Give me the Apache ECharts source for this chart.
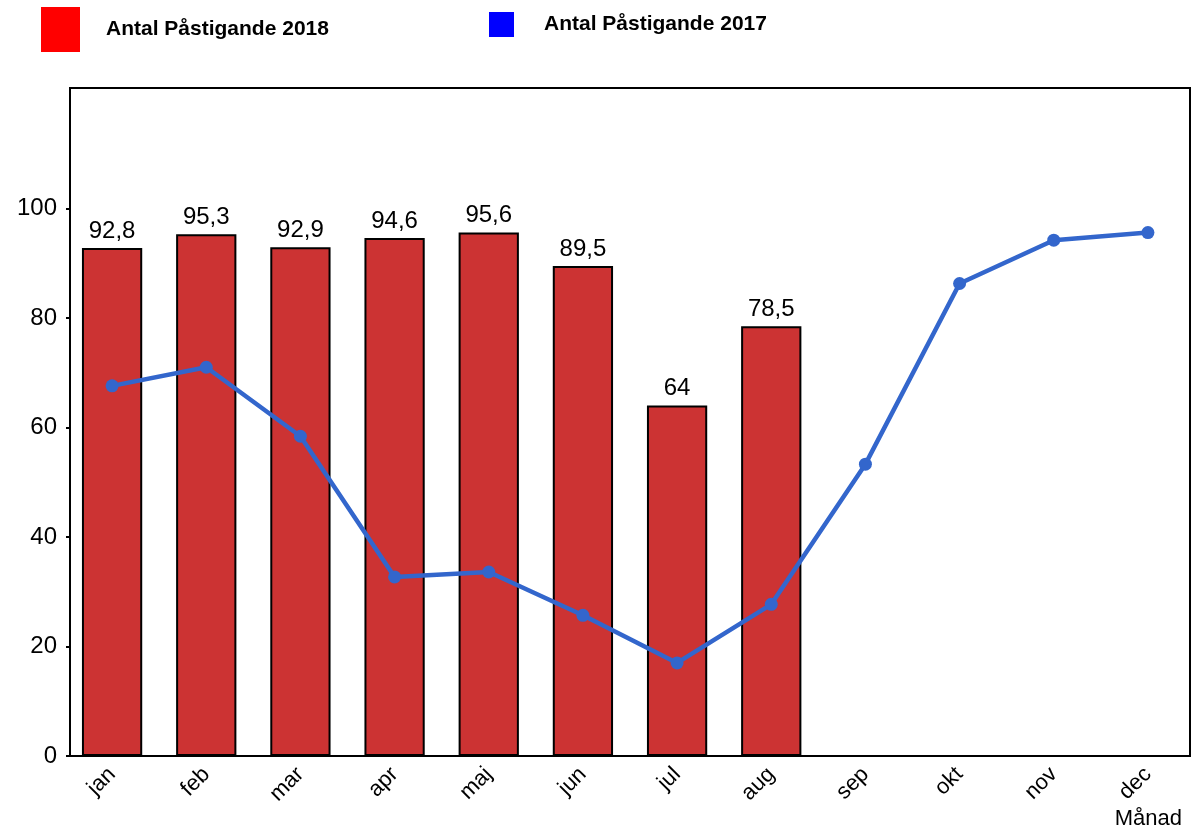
<!DOCTYPE html>
<html>
<head>
<meta charset="utf-8">
<script src="https://cdn.jsdelivr.net/npm/echarts@6/dist/echarts.min.js"></script>
<style>
  html, body { margin: 0; padding: 0; background: #fff; }
  #chart { width: 1195px; height: 836px; }
</style>
</head>
<body>
<div id="chart"></div>
<script>
var months = ['jan', 'feb', 'mar', 'apr', 'maj', 'jun', 'jul', 'aug', 'sep', 'okt', 'nov', 'dec']
var pass2018 = [92.8, 95.3, 92.9, 94.6, 95.6, 89.5, 64, 78.5, null, null, null, null]
var pass2017 = [67.6, 71, 58.4, 32.7, 33.6, 25.7, 17, 27.7, 53.3, 86.3, 94.2, 95.6]
var yTicks = [0, 20, 40, 60, 80, 100]

var chart = echarts.init(document.getElementById('chart'))
var font = 'Liberation Sans, Arial, sans-serif'
var legendText = { fontSize: 21, fontWeight: 'bold', color: '#000', fontFamily: font }

chart.setOption({
  animation: false,
  textStyle: { fontFamily: font },
  legend: [
    {
      left: 41,
      top: 7,
      padding: 0,
      selectedMode: false,
      itemWidth: 39,
      itemHeight: 45,
      textStyle: Object.assign({ padding: [0, 0, 6, 21] }, legendText),
      data: [{ name: 'Antal Påstigande 2018', icon: 'rect', itemStyle: { color: '#ff0000', borderWidth: 0 } }]
    },
    {
      left: 489,
      top: 12,
      padding: 0,
      selectedMode: false,
      itemWidth: 25,
      itemHeight: 25,
      textStyle: Object.assign({ padding: [0, 0, 2, 25] }, legendText),
      data: [{ name: 'Antal Påstigande 2017', icon: 'rect', itemStyle: { color: '#0000ff', borderWidth: 0 } }]
    }
  ],
  grid: {
    left: 65,
    right: -1,
    top: 88,
    bottom: 80
  },
  graphic: [
    {
      type: 'rect',
      z: 0,
      shape: { x: 70, y: 88, width: 1120, height: 668 },
      style: { fill: null, stroke: '#000', lineWidth: 2 }
    }
  ],
  xAxis: {
    type: 'category',
    data: months,
    name: 'Månad',
    nameLocation: 'end',
    nameGap: 0,
    nameTextStyle: { fontSize: 22, color: '#000', align: 'right', verticalAlign: 'top', padding: [52, 13, 0, 0] },
    axisLine: { show: false },
    axisTick: { show: false },
    axisLabel: { rotate: 45, fontSize: 22, color: '#000', margin: 15 }
  },
  yAxis: {
    type: 'value',
    min: 0,
    max: 122,
    interval: 20,
    offset: -5,
    splitLine: { show: false },
    axisLine: { show: true, lineStyle: { color: '#000', width: 2 } },
    axisTick: { show: true, length: 4, customValues: yTicks, lineStyle: { color: '#000', width: 2 } },
    axisLabel: { fontSize: 24, color: '#000', margin: 13, customValues: yTicks }
  },
  series: [
    {
      name: 'Antal Påstigande 2018',
      type: 'bar',
      data: pass2018,
      barWidth: '64%',
      itemStyle: { color: '#cc3333', borderColor: '#000', borderWidth: 2 },
      label: {
        show: true,
        position: 'top',
        fontSize: 24,
        color: '#000',
        distance: 5,
        formatter: function (p) { return String(p.value).replace('.', ',') }
      }
    },
    {
      name: 'Antal Påstigande 2017',
      type: 'line',
      data: pass2017,
      symbol: 'circle',
      symbolSize: 13,
      lineStyle: { color: '#3366cc', width: 4.5 },
      itemStyle: { color: '#3366cc' }
    }
  ]
})
</script>
</body>
</html>
